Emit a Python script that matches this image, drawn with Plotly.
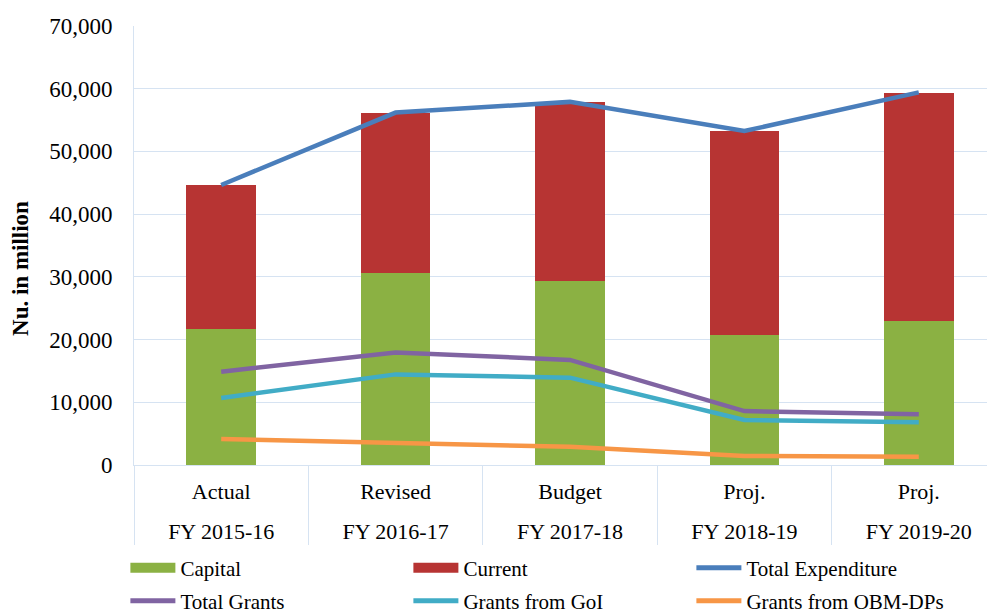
import plotly.graph_objects as go

# categories (inner label / outer label)
PERIOD = ['Actual', 'Revised', 'Budget', 'Proj.', 'Proj.']
FISCAL_YEAR = ['FY 2015-16', 'FY 2016-17', 'FY 2017-18', 'FY 2018-19', 'FY 2019-20']

# Nu. in million
CAPITAL = [21750, 30550, 29300, 20700, 23000]
CURRENT = [22900, 25650, 28550, 32520, 36380]
TOTAL_EXPENDITURE = [44650, 56200, 57900, 53250, 59420]
TOTAL_GRANTS = [14880, 17950, 16750, 8600, 8080]
GRANTS_GOI = [10690, 14450, 13930, 7180, 6810]
GRANTS_OBM = [4150, 3450, 2900, 1440, 1330]

FONT = 'Times New Roman, Liberation Serif, serif'
GRID = '#D6E3F2'
GREEN = '#8BB143'
RED = '#B73433'

# a tall invisible spacer on the inner labels pushes the FY row down
PAD = '<span style="font-size:40px">&nbsp;</span>'
x = [FISCAL_YEAR, [PAD + p + PAD for p in PERIOD]]

fig = go.Figure()

fig.add_trace(go.Bar(x=x, y=CAPITAL, name='Capital', marker_color=GREEN,
                     marker_line_width=0, width=0.4, showlegend=False))
fig.add_trace(go.Bar(x=x, y=CURRENT, name='Current', marker_color=RED,
                     marker_line_width=0, width=0.4, showlegend=False))

lines = [
    ('Total Expenditure', TOTAL_EXPENDITURE, '#4A7EBB'),
    ('Total Grants', TOTAL_GRANTS, '#8064A2'),
    ('Grants from GoI', GRANTS_GOI, '#41ACC6'),
    ('Grants from OBM-DPs', GRANTS_OBM, '#F79646'),
]
for name, vals, color in lines:
    fig.add_trace(go.Scatter(x=x, y=vals, name=name, mode='lines',
                             line=dict(color=color, width=4.5), showlegend=False))

# legend proxies: first row in legend, second row in legend2
legend_items = [('Capital', GREEN, 10), ('Current', RED, 10)] + [(n, c, 5) for n, _, c in lines]
for i, (name, color, w) in enumerate(legend_items):
    fig.add_trace(go.Scatter(x=[None], y=[None], name=name, mode='lines',
                             line=dict(color=color, width=w),
                             legend='legend' if i < 3 else 'legend2'))

legend_style = dict(orientation='h', x=-0.01, xanchor='left',
                    yanchor='middle', entrywidth=223, entrywidthmode='pixels',
                    itemwidth=45, font=dict(size=21), bgcolor='rgba(0,0,0,0)',
                    traceorder='normal')

# page body has an 8px margin, so the figure is 8px smaller than the window
fig.update_layout(
    barmode='stack',
    width=987, height=604,
    margin=dict(l=126, r=0, t=18, b=147, autoexpand=False),
    paper_bgcolor='white', plot_bgcolor='white',
    font=dict(family=FONT, size=22, color='black'),
    legend=dict(legend_style, y=-0.2346),
    legend2=dict(legend_style, y=-0.31),
    showlegend=True,
)
fig.update_xaxes(
    type='multicategory', range=[-0.5, 4.437], automargin=False,
    showline=True, linecolor=GRID, linewidth=1,
    showgrid=False, showdividers=True, dividercolor=GRID, dividerwidth=1,
    tickfont=dict(size=22), ticks='', ticklabelstandoff=7, tickangle=0,
)
fig.update_yaxes(
    range=[0, 70000], dtick=10000, tickformat=',d', automargin=False,
    showgrid=True, gridcolor=GRID, gridwidth=1,
    showline=True, linecolor=GRID, linewidth=1,
    zeroline=False, tickfont=dict(size=23), ticklabelstandoff=16,
    title=dict(text='<b>Nu. in million</b>' + '&nbsp;' * 8, font=dict(size=23), standoff=14),
)

fig.write_html('out.html')
